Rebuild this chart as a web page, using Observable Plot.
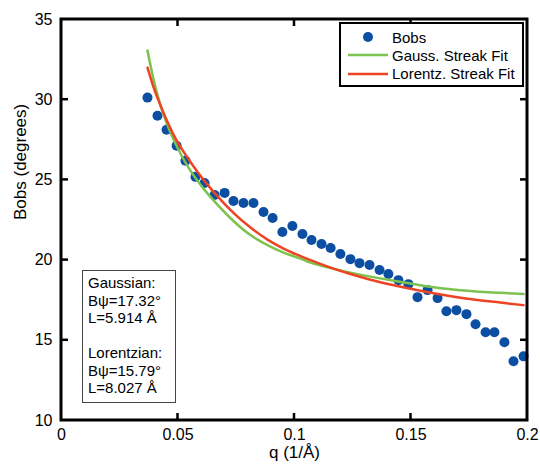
<!DOCTYPE html>
<html>
<head>
<meta charset="utf-8">
<script src="https://cdn.jsdelivr.net/npm/d3@7"></script>
<script src="https://cdn.jsdelivr.net/npm/@observablehq/plot@0.6"></script>
<style>
  html, body { margin: 0; padding: 0; background: white; overflow: hidden; }
  #chart svg { display: block; }
</style>
</head>
<body>
<div id="chart"></div>
<script>
// Observed Bobs values
const obsQ = [0.0369,0.0412,0.0451,0.0494,0.0532,0.0575,0.0614,0.0657,0.0700,0.0738,
              0.0781,0.0824,0.0867,0.0906,0.0948,0.0991,0.1034,0.1073,0.1116,0.1155,
              0.1197,0.1240,0.1279,0.1322,0.1365,0.1403,0.1446,0.1489,0.1528,0.1571,
              0.1614,0.1652,0.1695,0.1738,0.1777,0.1820,0.1858,0.1901,0.1940,0.1983];
const obsB = [30.13,29.0,28.13,27.13,26.19,25.19,24.81,24.06,24.19,23.69,
              23.56,23.56,23.0,22.63,21.75,22.13,21.63,21.25,21.0,20.75,
              20.38,20.06,19.81,19.69,19.38,19.13,18.75,18.5,17.69,18.13,
              17.63,16.81,16.88,16.63,16.0,15.5,15.5,14.88,13.69,14.0];

// Gaussian streak fit
const gaussQ = [0.0369,0.0395,0.0425,0.0468,0.0511,0.0554,0.0597,0.0670,0.0738,0.0811,
                0.0884,0.0953,0.1026,0.1069,0.1155,0.1240,0.1326,0.1412,0.1498,0.1597,
                0.1742,0.1884,0.1983];
const gaussB = [33.06,31.25,29.63,27.94,26.63,25.56,24.69,23.44,22.44,21.56,
                20.94,20.47,20.09,19.84,19.5,19.22,18.97,18.75,18.54,18.31,
                18.09,17.96,17.89];

// Lorentzian streak fit
const lorQ = [0.0369,0.0395,0.0438,0.0481,0.0541,0.0584,0.0631,0.0670,0.0738,0.0811,
              0.0884,0.0953,0.1026,0.1069,0.1155,0.1240,0.1326,0.1412,0.1498,0.1597,
              0.1742,0.1884,0.1983];
const lorB = [32.0,30.78,29.19,27.81,26.38,25.5,24.63,23.97,22.94,22.03,
              21.28,20.72,20.25,20.0,19.53,19.13,18.78,18.48,18.21,17.93,
              17.59,17.35,17.19];

const xTicks = [0, 0.05, 0.1, 0.15, 0.2];
const xTickLabels = ["0", "0.05", "0.1", "0.15", "0.2"];
const yTicks = [10, 15, 20, 25, 30, 35];
const yTickLabels = ["10", "15", "20", "25", "30", "35"];
const xInnerTicks = [0.05, 0.1, 0.15];
const yInnerTicks = [15, 20, 25, 30];

const legendLabels = ["Bobs", "Gauss. Streak Fit", "Lorentz. Streak Fit"];
const noteLines = ["Gaussian:", "B\u03c8=17.32\u00b0", "L=5.914 \u00c5", "", "Lorentzian:", "B\u03c8=15.79\u00b0", "L=8.027 \u00c5"];

const BLUE = "#0b4ea2", GREEN = "#7cc24e", RED = "#ee4423";
const FONT = "'Liberation Sans', Arial, Helvetica, sans-serif";

const obs = obsQ.map((q, i) => ({q, b: obsB[i]}));
const gauss = gaussQ.map((q, i) => ({q, b: gaussB[i]}));
const lor = lorQ.map((q, i) => ({q, b: lorB[i]}));

const plot = Plot.plot({
  width: 540,
  height: 465,
  marginLeft: 61,
  marginRight: 13,
  marginTop: 19,
  marginBottom: 45,
  x: {domain: [0, 0.2]},
  y: {domain: [10, 35]},
  style: {fontFamily: FONT, fontSize: "16px", background: "white", color: "black"},
  marks: [
    Plot.axisX({ticks: xTicks, tickSize: 0, tickPadding: 8, tickFormat: (d, i) => xTickLabels[i], label: null, fontSize: 16}),
    Plot.axisY({ticks: yTicks, tickSize: 0, tickPadding: 9, tickFormat: (d, i) => yTickLabels[i], label: null, fontSize: 16}),
    Plot.text(["q (1/\u00c5)"], {frameAnchor: "bottom", dy: 37, text: d => d, fontSize: 17}),
    Plot.text(["Bobs (degrees)"], {frameAnchor: "left", dx: -41, rotate: -90, text: d => d, fontSize: 17}),
    Plot.dot(obs, {x: "q", y: "b", r: 5, fill: BLUE}),
    Plot.line(gauss, {x: "q", y: "b", stroke: GREEN, strokeWidth: 2.5, curve: "monotone-x"}),
    Plot.line(lor, {x: "q", y: "b", stroke: RED, strokeWidth: 2.5, curve: "monotone-x"})
  ]
});

document.getElementById("chart").appendChild(plot);

const svg = d3.select(plot);
const sx = plot.scale("x"), sy = plot.scale("y");
const [x0, x1] = sx.range, [y0, y1] = sy.range; // y0 bottom, y1 top

// Frame and inward ticks as filled shapes (positions from Plot's scales)
const ax = svg.append("g").attr("fill", "black").attr("stroke", "none");
const h = 1.5;
ax.append("path").attr("fill-rule", "evenodd").attr("d",
  `M${x0 - h},${y1 - h}H${x1 + h}V${y0 + h}H${x0 - h}Z` +
  `M${x0 + h},${y1 + h}V${y0 - h}H${x1 - h}V${y1 + h}Z`);
xInnerTicks.forEach(v => {
  const px = sx.apply(v);
  ax.append("rect").attr("x", px - 1.25).attr("y", y0 - 7).attr("width", 2.5).attr("height", 7);
  ax.append("rect").attr("x", px - 1.25).attr("y", y1).attr("width", 2.5).attr("height", 7);
});
yInnerTicks.forEach(v => {
  const py = sy.apply(v);
  ax.append("rect").attr("x", x0).attr("y", py - 1.25).attr("width", 7).attr("height", 2.5);
  ax.append("rect").attr("x", x1 - 7).attr("y", py - 1.25).attr("width", 7).attr("height", 2.5);
});

// Legend
const leg = svg.append("g").attr("font-family", FONT).attr("font-size", 15).attr("text-anchor", "start");
leg.append("rect").attr("x", 340).attr("y", 23).attr("width", 183).attr("height", 63)
  .attr("fill", "white").attr("stroke", "black").attr("stroke-width", 2);
leg.append("circle").attr("cx", 368).attr("cy", 37).attr("r", 5).attr("fill", BLUE);
leg.append("line").attr("x1", 348).attr("x2", 388).attr("y1", 55).attr("y2", 55)
  .attr("stroke", GREEN).attr("stroke-width", 2.5);
leg.append("line").attr("x1", 348).attr("x2", 388).attr("y1", 74).attr("y2", 74)
  .attr("stroke", RED).attr("stroke-width", 2.5);
legendLabels.forEach((t, i) => {
  leg.append("text").attr("x", 392).attr("y", 43 + i * 18).attr("fill", "black").text(t);
});

// Annotation box
const note = svg.append("g").attr("font-family", FONT).attr("font-size", 15).attr("text-anchor", "start");
note.append("rect").attr("x", 82.5).attr("y", 270.5).attr("width", 93).attr("height", 132)
  .attr("fill", "white").attr("stroke", "#444").attr("stroke-width", 1);
noteLines.forEach((t, i) => {
  if (t) note.append("text").attr("x", 88).attr("y", 288 + i * 17.5).attr("fill", "black").text(t);
});
</script>
</body>
</html>
